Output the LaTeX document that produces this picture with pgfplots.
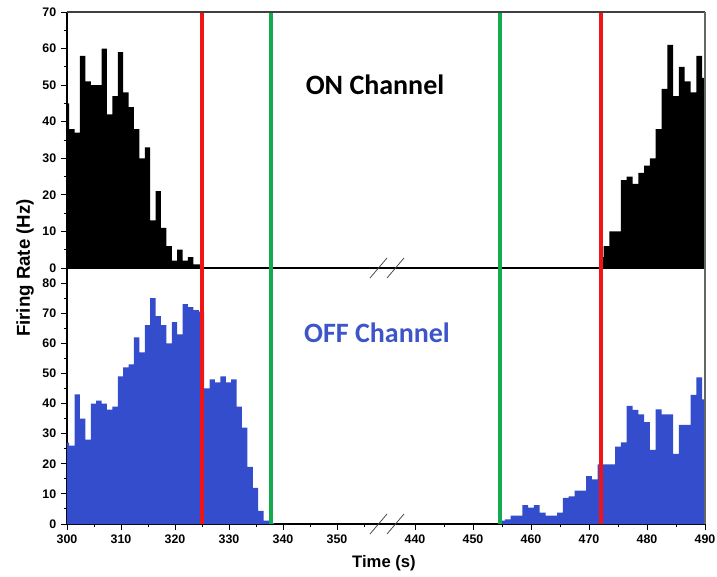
\documentclass[border=0pt]{standalone}
\usepackage{pgfplots}
\pgfplotsset{compat=1.18}
\usepackage{fontspec}
\setmainfont{Liberation Sans}
\newfontfamily\calibri{Carlito}
\definecolor{offblue}{RGB}{51,77,204}
\definecolor{offtext}{RGB}{60,85,200}
\definecolor{vred}{RGB}{240,20,20}
\definecolor{vgreen}{RGB}{20,170,80}
\tikzset{vl/.style={line width=3pt}}
\pgfplotsset{
  base/.style={
    scale only axis, height=192pt, anchor=south west,
    axis line style={line width=0.8pt, black},
    tick align=outside,
    major tick length=4.5pt, minor tick length=2.5pt,
    every tick/.style={black, line width=0.7pt},
    ticklabel style={font=\fontsize{9.3}{10}\selectfont\bfseries},
    /pgf/number format/assume math mode=true,
  },
  left seg/.style={base, width=238.95pt, xmin=300, xmax=359},
  right seg/.style={base, width=239.25pt, xmin=435, xmax=490},
}
\begin{document}
\begin{tikzpicture}
\useasboundingbox (0,0) rectangle (537.75pt,-432.75pt);
% ---------- top left (ON) ----------
\begin{axis}[left seg, at={(50.25pt,-201pt)}, ymin=0, ymax=70,
  axis y line*=left, axis x line*=bottom, xtick=\empty,
  ytick={0,10,...,70}, minor ytick={5,15,...,65}]
\addplot[const plot, fill=black, draw=none] coordinates {
(299.4,45) (300.4,38) (301.4,37) (302.4,58) (303.4,51) (304.4,50) (305.4,50)
(306.4,60) (307.4,42) (308.4,47) (309.4,59) (310.4,48) (311.4,44) (312.4,38)
(313.4,30) (314.4,33) (315.4,13) (316.4,21) (317.4,11) (318.4,6) (319.4,2)
(320.4,5) (321.4,2) (322.4,3) (323.4,1) (324.4,1) (325.0,1)} \closedcycle;
\draw[vred, vl] (axis cs:325,0) -- (axis cs:325,70);
\draw[vgreen, vl] (axis cs:337.7,0) -- (axis cs:337.7,70);
\end{axis}
% ---------- top right (ON) ----------
\begin{axis}[right seg, at={(289.5pt,-201pt)}, ymin=0, ymax=70,
  axis y line=none, axis x line*=bottom, xtick=\empty, ytick=\empty]
\addplot[const plot, fill=black, draw=none] coordinates {
(472,3) (472.5,6) (473.5,10) (474.5,10) (475.5,24) (476.5,25) (477.5,23)
(478.5,26) (479.5,28) (480.5,30) (481.5,38) (482.5,49) (483.5,61) (484.5,47)
(485.5,55) (486.5,51) (487.5,48) (488.5,58) (489.5,52) (490.5,52)} \closedcycle;
\draw[vred, vl] (axis cs:472,0) -- (axis cs:472,70);
\draw[vgreen, vl] (axis cs:454.7,0) -- (axis cs:454.7,70);
\end{axis}
% ---------- bottom left (OFF) ----------
\begin{axis}[left seg, at={(50.25pt,-393pt)}, ymin=0, ymax=85,
  axis y line*=left, axis x line*=bottom,
  xtick={300,310,...,350}, minor xtick={305,315,...,355},
  ytick={0,10,...,80}, minor ytick={5,15,...,75}]
\addplot[const plot, fill=offblue, draw=none] coordinates {
(299.4,27) (300.4,26) (301.4,43) (302.4,35) (303.4,28) (304.4,40) (305.4,41)
(306.4,40) (307.4,38) (308.4,39) (309.4,49) (310.4,52) (311.4,53) (312.4,62)
(313.4,57) (314.4,66) (315.4,75) (316.4,69) (317.4,66) (318.4,60) (319.4,67)
(320.4,63) (321.4,73) (322.4,72) (323.4,71) (324.4,70.5) (325.4,45) (326.4,48)
(327.4,47) (328.4,49) (329.4,47) (330.4,48) (331.4,39) (332.4,32) (333.4,19)
(334.4,12) (335.4,4.4) (336.4,1.1) (337.4,0.3) (338.4,0.3)} \closedcycle;
\draw[vred, vl] (axis cs:325,0) -- (axis cs:325,85);
\draw[vgreen, vl] (axis cs:337.7,0) -- (axis cs:337.7,85);
\end{axis}
% ---------- bottom right (OFF) ----------
\begin{axis}[right seg, at={(289.5pt,-393pt)}, ymin=0, ymax=85,
  axis y line=none, axis x line*=bottom, ytick=\empty,
  xtick={440,450,...,490}, minor xtick={445,455,...,485}]
\addplot[const plot, fill=offblue, draw=none] coordinates {
(454.5,1.1) (455.5,1.5) (456.5,2.8) (457.5,2.8) (458.5,6.3) (459.5,5.4)
(460.5,6.3) (461.5,3.8) (462.5,2.8) (463.5,2.8) (464.5,3.8) (465.5,8.7)
(466.5,9.2) (467.5,11.1) (468.5,11.1) (469.5,15.9) (470.5,14.8) (471.5,19.8)
(472.5,19.8) (473.5,19.8) (474.5,25.7) (475.5,27.1) (476.5,39.2) (477.5,37.9)
(478.5,36.4) (479.5,33.8) (480.5,24.6) (481.5,38.1) (482.5,36.4) (483.5,36.4)
(484.5,23.3) (485.5,32.9) (486.5,32.9) (487.5,42.9) (488.5,48.7) (489.5,41.4)
(490.5,41.4)} \closedcycle;
\draw[vred, vl] (axis cs:472,0) -- (axis cs:472,85);
\draw[vgreen, vl] (axis cs:454.7,0) -- (axis cs:454.7,85);
\end{axis}
% ---------- frame lines ----------
\draw[black!75, line width=0.8pt] (50.25pt,-9pt) -- (528.75pt,-9pt);
\draw[black!60, line width=0.8pt] (528.75pt,-9pt) -- (528.75pt,-393pt);
% ---------- axis breaks ----------
\foreach \yy in {-201pt,-393pt}{
  \draw[black!70, line width=0.6pt] (277.5pt,\yy-7.5pt) -- (290.25pt,\yy+7.5pt);
  \draw[black!70, line width=0.6pt] (290.25pt,\yy-7.5pt) -- (303pt,\yy+7.5pt);
}
% ---------- texts ----------
\node[font=\calibri\bfseries\fontsize{21}{24}\selectfont] at (281.25pt,-63.75pt) {ON Channel};
\node[font=\calibri\bfseries\fontsize{21}{24}\selectfont, text=offtext] at (282.75pt,-249.75pt) {OFF Channel};
\node[rotate=90, font=\bfseries\fontsize{14}{16}\selectfont] at (18.75pt,-201pt) {Firing Rate (Hz)};
\node[font=\bfseries\fontsize{12.5}{14}\selectfont] at (288pt,-422.25pt) {Time (s)};
\end{tikzpicture}
\end{document}
